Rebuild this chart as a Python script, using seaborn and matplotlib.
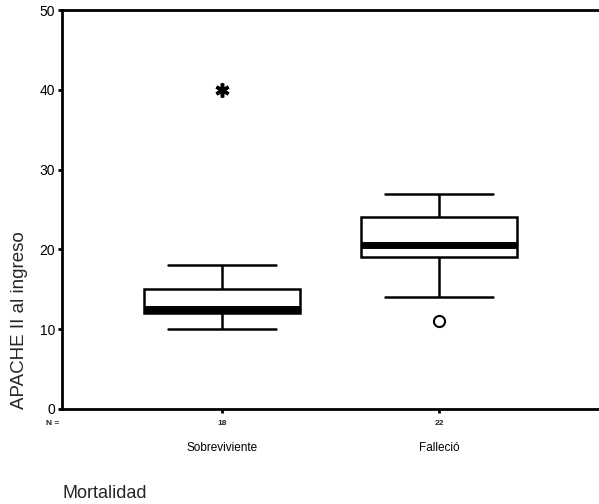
import numpy as np
import pandas as pd
import matplotlib
matplotlib.use("Agg")
import matplotlib.pyplot as plt
import seaborn as sns

# ------------------------------------------ DATA ------------------------------------------------------------#
categorias = ['Sobreviviente', 'Falleció']
apache_sobrevive = [10, 10, 11, 11, 12, 12, 12, 12, 12, 13, 13, 14, 15, 15, 16, 17, 18, 40]
apache_fallece = [11, 14, 15, 17, 18, 19, 19, 19, 20, 20, 20, 21, 22, 22, 23, 24, 24, 25, 26, 26, 27, 27]
y_ticks = [0, 10, 20, 30, 40, 50]

df = pd.DataFrame({
    'Mortalidad': [categorias[0]] * len(apache_sobrevive) + [categorias[1]] * len(apache_fallece),
    'APACHE': apache_sobrevive + apache_fallece,
})

# ------------------------------------------ PLOT ------------------------------------------------------------#
sns.set_style('ticks')
plt.rcParams['font.family'] = ['Liberation Sans', 'DejaVu Sans']

fig = plt.figure(figsize=(5.99, 5.04), dpi=100)
ax = fig.add_axes([62 / 599, 1 - 409 / 504, 1 - 62 / 599, (409 - 10) / 504])

sns.boxplot(data=df, x='Mortalidad', y='APACHE', order=categorias, ax=ax,
            color='white', linecolor='black', linewidth=1.8, width=0.72,
            capwidths=0.5,
            medianprops=dict(linewidth=5, color='black'),
            flierprops=dict(marker='o', markersize=8, markerfacecolor='white',
                            markeredgecolor='black', markeredgewidth=1.5))

# SPSS-style markers: asterisk for extreme, circle for outlier
fliers = [l for l in ax.lines if l.get_marker() not in ('None', None, '') and len(l.get_xdata()) > 0]
fliers = sorted(fliers, key=lambda l: np.mean(l.get_xdata()))
if fliers:
    fliers[0].set_marker((6, 2, 0))
    fliers[0].set_markeredgewidth(2.5)
    fliers[0].set_markersize(10)

ax.set_ylim(0, 50)
ax.set_yticks(y_ticks)
ax.set_xlim(-0.737, 1.737)

for side in ['left', 'bottom', 'top']:
    ax.spines[side].set_linewidth(2)
    ax.spines[side].set_color('black')
ax.spines['right'].set_visible(False)
ax.tick_params(axis='y', length=3, width=2, labelsize=10, pad=2, colors='black')
ax.tick_params(axis='x', length=3, width=2, labelsize=8.5, pad=21, colors='black')

# N counts under each category
ns = [len(apache_sobrevive), len(apache_fallece)]
for i, n in enumerate(ns):
    ax.annotate(str(n), xy=(i, 0), xycoords=('data', 'axes fraction'),
                xytext=(0, -8), textcoords='offset points',
                ha='center', va='top', fontsize=6, fontweight='bold')
ax.annotate('N =', xy=(0, 0), xycoords='axes fraction',
            xytext=(-2, -8), textcoords='offset points',
            ha='right', va='top', fontsize=6, fontweight='bold')

ax.set_ylabel('APACHE II al ingreso', fontsize=13.5, loc='bottom', labelpad=8)
ax.set_xlabel('Mortalidad', fontsize=13, loc='left', labelpad=22)

plt.savefig('out.png', dpi=100)
